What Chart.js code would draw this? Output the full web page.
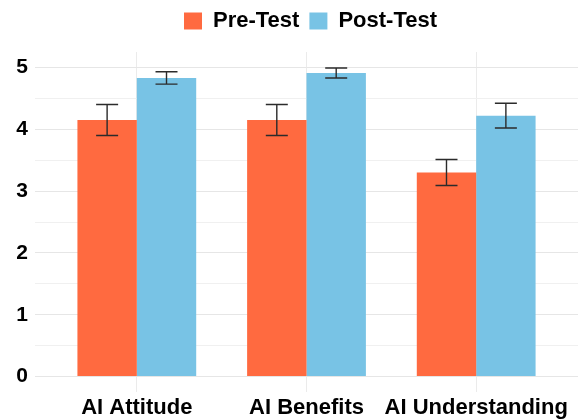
<!DOCTYPE html>
<html>
<head>
<meta charset="utf-8">
<script src="https://cdn.jsdelivr.net/npm/chart.js@4/dist/chart.umd.min.js"></script>
<style>
html,body{margin:0;padding:0;background:#fff;}
#wrap{width:578px;height:419px;}
</style>
</head>
<body>
<div id="wrap"><canvas id="c" width="578" height="419"></canvas></div>
<script>
const categories = ["AI Attitude", "AI Benefits", "AI Understanding"];
const seriesNames = ["Pre-Test", "Post-Test"];
const preMeans = [4.15, 4.15, 3.30];
const preErrors = [0.25, 0.25, 0.21];
const postMeans = [4.83, 4.91, 4.22];
const postErrors = [0.10, 0.08, 0.20];
const yTicks = [0, 0.5, 1, 1.5, 2, 2.5, 3, 3.5, 4, 4.5, 5];

const FONT = "'Liberation Sans', Arial, sans-serif";

const errorBarPlugin = {
  id: 'errorBars',
  afterDatasetsDraw(chart) {
    const ctx = chart.ctx;
    const y = chart.scales.y;
    const errs = [preErrors, postErrors];
    ctx.save();
    ctx.strokeStyle = '#2b2b2b';
    ctx.lineWidth = 1.4;
    chart.data.datasets.forEach((ds, di) => {
      const meta = chart.getDatasetMeta(di);
      meta.data.forEach((bar, j) => {
        const v = ds.data[j].y;
        const e = errs[di][j];
        const top = y.getPixelForValue(v + e);
        const bot = y.getPixelForValue(v - e);
        const cx = bar.x, hw = 11;
        ctx.beginPath();
        ctx.moveTo(cx, top); ctx.lineTo(cx, bot);
        ctx.moveTo(cx - hw, top); ctx.lineTo(cx + hw, top);
        ctx.moveTo(cx - hw, bot); ctx.lineTo(cx + hw, bot);
        ctx.stroke();
      });
    });
    ctx.restore();
  }
};

// Legend: a little more room below it, and centred over the plot panel
const legendSpacer = {
  id: 'legendSpacer',
  afterInit(chart) {
    const lg = chart.legend;
    if (!lg) return;
    const orig = lg.fit;
    lg.fit = function () { orig.call(this); this.height += 10; };
  },
  afterLayout(chart) {
    if (chart.legend) chart.legend.left = chart.chartArea.left + 8;
  }
};

new Chart(document.getElementById('c'), {
  type: 'bar',
  data: {
    datasets: [
      {
        label: seriesNames[0],
        data: categories.map((c, i) => ({ x: i + 1, y: preMeans[i] })),
        backgroundColor: '#FF6A40',
        borderWidth: 0
      },
      {
        label: seriesNames[1],
        data: categories.map((c, i) => ({ x: i + 1, y: postMeans[i] })),
        backgroundColor: '#78C3E5',
        borderWidth: 0
      }
    ]
  },
  options: {
    responsive: false,
    animation: false,
    devicePixelRatio: 1,
    layout: { padding: { top: 0, right: 0, left: 0, bottom: 0 } },
    datasets: { bar: { categoryPercentage: 0.7, barPercentage: 1.0 } },
    plugins: {
      tooltip: { enabled: false },
      legend: {
        position: 'top',
        labels: {
          boxWidth: 18,
          boxHeight: 17,
          padding: 10,
          color: '#000',
          font: { family: FONT, size: 22, weight: 'bold' }
        }
      }
    },
    scales: {
      x: {
        type: 'linear',
        min: 0.4,
        max: 3.6,
        offset: false,
        afterBuildTicks(scale) {
          scale.ticks = categories.map((c, i) => ({ value: i + 1 }));
        },
        afterFit(scale) { scale.height = 27; },
        border: { display: false },
        grid: { offset: false, color: '#ebebeb', lineWidth: 1, drawTicks: false },
        ticks: {
          autoSkip: false,
          maxRotation: 0,
          padding: 3,
          color: '#000',
          font: { family: FONT, size: 22, weight: 'bold' },
          callback: (v) => categories[Math.round(v) - 1]
        }
      },
      y: {
        min: -0.25,
        max: 5.25,
        afterBuildTicks(scale) {
          scale.ticks = yTicks.map(v => ({ value: v }));
        },
        afterFit(scale) { scale.width = 35; },
        border: { display: false },
        grid: {
          drawTicks: false,
          lineWidth: 1,
          color: (c) => (c.tick && Number.isInteger(c.tick.value)) ? '#e6e6e6' : '#f0f0f0'
        },
        ticks: {
          padding: 7,
          color: '#000',
          font: { family: FONT, size: 21, weight: 'bold' },
          callback: (v) => Number.isInteger(v) ? String(v) : ''
        }
      }
    }
  },
  plugins: [errorBarPlugin, legendSpacer]
});
</script>
</body>
</html>
